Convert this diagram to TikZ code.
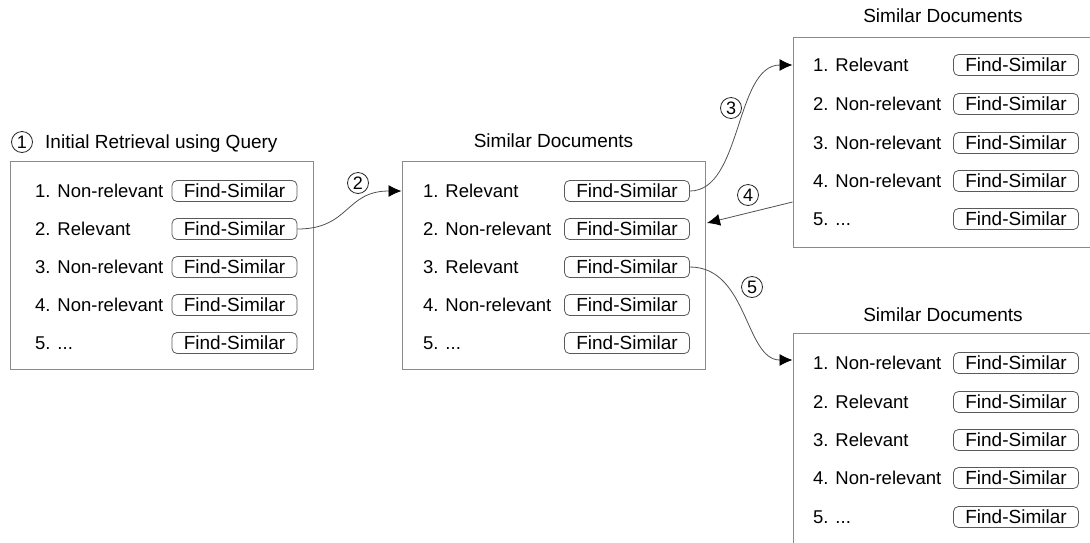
\documentclass[tikz,border=0pt]{standalone}
\usepackage{fontspec}
\setmainfont{Liberation Sans}
\usetikzlibrary{arrows.meta}
\definecolor{boxgray}{HTML}{8A8A8A}
\definecolor{btngray}{HTML}{5A5A5A}
\definecolor{linegray}{HTML}{505050}
\begin{document}
\begin{tikzpicture}[x=1pt,y=-1pt,
  every node/.style={font=\fontsize{19}{22}\selectfont, text=black},
  docbox/.style={draw=boxgray, line width=1pt, minimum width=303pt, minimum height=208pt, inner sep=0pt},
  btn/.style={draw=btngray, line width=0.8pt, rounded corners=5pt, minimum width=125pt, minimum height=21pt, inner sep=0pt, text height=13.6pt, text depth=0pt},
  lbl/.style={anchor=west, inner sep=0pt, text height=13.4pt, text depth=0pt, font=\fontsize{18.5}{22}\selectfont},
  ttl/.style={inner sep=0pt, text height=13.6pt, text depth=0pt},
  num/.style={draw=black!85, circle, line width=0.8pt, minimum size=21pt, inner sep=0pt, font=\fontsize{18}{20}\selectfont},
  conn/.style={draw=linegray, line width=0.8pt, -{Latex[length=13pt,width=12pt,color=black]}}
]
\useasboundingbox (0,0) rectangle (1090,542);
\clip (0,0) rectangle (1090,542);

% ---------- Box 1 ----------
\node[num] (n1) at (22,142) {1};
\node[ttl, anchor=west] (t1) at (45,142) {Initial Retrieval using Query};
\node[docbox] (b1) at (161.5,265) {};
\node[lbl] (l1a) at (35,191) {1. Non-relevant};
\node[lbl] (l1b) at (35,229) {2. Relevant};
\node[lbl] (l1c) at (35,267) {3. Non-relevant};
\node[lbl] (l1d) at (35,305) {4. Non-relevant};
\node[lbl] (l1e) at (35,343) {5. ...};
\node[btn] (f1a) at (234.5,191) {Find-Similar};
\node[btn] (f1b) at (234.5,229) {Find-Similar};
\node[btn] (f1c) at (234.5,267) {Find-Similar};
\node[btn] (f1d) at (234.5,305) {Find-Similar};
\node[btn] (f1e) at (234.5,343) {Find-Similar};

% ---------- Box 2 ----------
\node[ttl] (t2) at (553.5,141) {Similar Documents};
\node[docbox] (b2) at (553.5,265) {};
\node[lbl] (l2a) at (423,191) {1. Relevant};
\node[lbl] (l2b) at (423,229) {2. Non-relevant};
\node[lbl] (l2c) at (423,267) {3. Relevant};
\node[lbl] (l2d) at (423,305) {4. Non-relevant};
\node[lbl] (l2e) at (423,343) {5. ...};
\node[btn] (f2a) at (627,191) {Find-Similar};
\node[btn] (f2b) at (627,229) {Find-Similar};
\node[btn] (f2c) at (627,267) {Find-Similar};
\node[btn] (f2d) at (627,305) {Find-Similar};
\node[btn] (f2e) at (627,343) {Find-Similar};

% ---------- Box 3 (runs past the right edge) ----------
\node[ttl] (t3) at (943,16) {Similar Documents};
\node[docbox, minimum width=400pt, minimum height=210pt] (b3) at (993,142) {};
\node[lbl] (l3a) at (813,65) {1. Relevant};
\node[lbl] (l3b) at (813,104) {2. Non-relevant};
\node[lbl] (l3c) at (813,143) {3. Non-relevant};
\node[lbl] (l3d) at (813,181) {4. Non-relevant};
\node[lbl] (l3e) at (813,219) {5. ...};
\node[btn] (f3a) at (1016,65) {Find-Similar};
\node[btn] (f3b) at (1016,104) {Find-Similar};
\node[btn] (f3c) at (1016,143) {Find-Similar};
\node[btn] (f3d) at (1016,181) {Find-Similar};
\node[btn] (f3e) at (1016,219) {Find-Similar};

% ---------- Box 4 (runs past the right and bottom edges) ----------
\node[ttl] (t4) at (943,315) {Similar Documents};
\node[docbox, minimum width=400pt, minimum height=260pt] (b4) at (993,463) {};
\node[lbl] (l4a) at (813,363) {1. Non-relevant};
\node[lbl] (l4b) at (813,402) {2. Relevant};
\node[lbl] (l4c) at (813,440) {3. Relevant};
\node[lbl] (l4d) at (813,478) {4. Non-relevant};
\node[lbl] (l4e) at (813,517) {5. ...};
\node[btn] (f4a) at (1016,363) {Find-Similar};
\node[btn] (f4b) at (1016,402) {Find-Similar};
\node[btn] (f4c) at (1016,440) {Find-Similar};
\node[btn] (f4d) at (1016,478) {Find-Similar};
\node[btn] (f4e) at (1016,517) {Find-Similar};

% ---------- Step numbers ----------
\node[num] (n2) at (358,183) {2};
\node[num] (n3) at (731,108) {3};
\node[num] (n4) at (748,195) {4};
\node[num] (n5) at (752,287) {5};

% ---------- Connectors ----------
\coordinate (e2) at (b2.west |- l2a);
\coordinate (e3) at (b3.west |- l3a);
\coordinate (s4) at (b3.west |- 0,202);
\coordinate (e4) at (707,223);
\coordinate (e5) at (b4.west |- 0,360);

\draw[conn] (f1b.east) .. controls (350,229) and (345,191) .. (e2);
\draw[conn] (f2a.east) .. controls (742,191) and (735,65) .. (e3);
\draw[conn] (s4) -- (e4);
\draw[conn] (f2c.east) .. controls (748,267) and (745,360) .. (e5);
\end{tikzpicture}
\end{document}
